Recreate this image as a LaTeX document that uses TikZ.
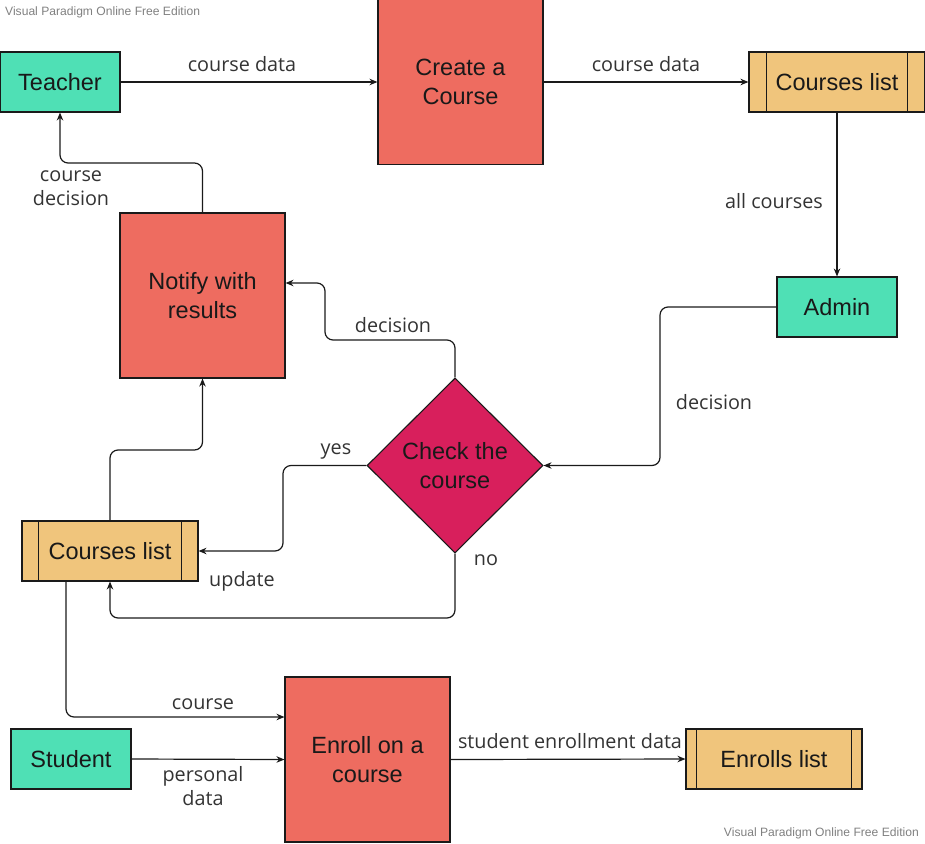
\documentclass[tikz,border=0pt]{standalone}
\usepackage{fontspec}
\setmainfont{Liberation Sans}
\newfontfamily\lblfont{Open Sans}
\usetikzlibrary{shapes.geometric,arrows.meta}
\definecolor{entgreen}{HTML}{4FE0B5}
\definecolor{procred}{HTML}{EE6C60}
\definecolor{decpink}{HTML}{D81F5C}
\definecolor{storeor}{HTML}{F0C57C}
\definecolor{lbl}{HTML}{333333}
\definecolor{wm}{HTML}{808080}
\definecolor{edge}{HTML}{1A1A1A}
\begin{document}
\begin{tikzpicture}[x=1pt,y=-1pt,
  base/.style={draw=edge, line width=1.1pt, inner sep=0pt, align=center, text=black!90,
    font=\fontsize{23.5}{28.5}\selectfont},
  entity/.style={base, fill=entgreen, minimum width=120pt, minimum height=60pt},
  proc/.style={base, fill=procred, minimum width=165pt, minimum height=165pt},
  store/.style={base, fill=storeor, minimum width=176pt, minimum height=60pt},
  decision/.style={base, diamond, fill=decpink, minimum width=176pt, minimum height=175pt},
  flow/.style={draw=edge, line width=1.2pt, rounded corners=8pt, -{Stealth[length=8pt,width=6.5pt]}},
  lab/.style={font=\lblfont\fontsize{19.8}{24}\selectfont, text=lbl, align=center, inner sep=0pt},
  wmark/.style={font=\fontsize{12.1}{14}\selectfont, text=wm, inner sep=0pt}]
\useasboundingbox (0,0) rectangle (925,843);

% nodes
\node[entity] (tch) at (60,82) {Teacher};
\node[proc] (crt) at (460.5,82) {Create a\\Course};
\node[store] (cl1) at (837,82) {Courses list};
\node[entity] (adm) at (837,307) {Admin};
\node[proc] (ntf) at (202.5,295.5) {Notify with\\results};
\node[decision] (chk) at (455,465.5) {Check the\\course};
\node[store] (cl2) at (110,551) {Courses list};
\node[entity] (stu) at (71,759) {Student};
\node[proc] (enr) at (367.5,759.5) {Enroll on a\\course};
\node[store] (enl) at (774,759) {Enrolls list};

% storage inner lines
\draw[edge, line width=1.1pt] ([xshift=18pt]cl1.north west) -- ([xshift=18pt]cl1.south west);
\draw[edge, line width=1.1pt] ([xshift=-18pt]cl1.north east) -- ([xshift=-18pt]cl1.south east);
\draw[edge, line width=1.1pt] ([xshift=17pt]cl2.north west) -- ([xshift=17pt]cl2.south west);
\draw[edge, line width=1.1pt] ([xshift=-17pt]cl2.north east) -- ([xshift=-17pt]cl2.south east);
\draw[edge, line width=1.1pt] ([xshift=11pt]enl.north west) -- ([xshift=11pt]enl.south west);
\draw[edge, line width=1.1pt] ([xshift=-11pt]enl.north east) -- ([xshift=-11pt]enl.south east);

% connectors
\draw[flow] (tch.east) -- (crt.west);
\draw[flow] (crt.east) -- (cl1.west);
\draw[flow] (cl1.south) -- (adm.north);
\draw[flow] (adm.west) -- (660,307) -- (660,465.5) -- (chk.east);
\draw[flow] (chk.north) -- (455,340) -- (325,340) -- (325,283) -- ([yshift=12.5pt]ntf.east);
\draw[flow] (ntf.north) -- (202.5,163) -- (60,163) -- (tch.south);
\draw[flow] (chk.west) -- (283,465.5) -- (283,551) -- (cl2.east);
\draw[flow] (chk.south) -- (455,618) -- (110,618) -- (cl2.south);
\draw[flow] (cl2.north) -- (110,450) -- (202.5,450) -- (ntf.south);
\draw[flow] ([xshift=-44pt]cl2.south) -- (66,717) -- ([yshift=42.5pt]enr.west);
\draw[flow] (stu.east) -- (enr.west);
\draw[flow] (enr.east) -- (enl.west);

% labels
\node[lab] (l1) at (242,64) {course data};
\node[lab] (l2) at (646,64) {course data};
\node[lab] (l3) at (774,201) {all courses};
\node[lab] (l4) at (714,402) {decision};
\node[lab] (l5) at (393,325) {decision};
\node[lab] (l6) at (71,188) {course\\decision};
\node[lab] (l7) at (336,451) {yes};
\node[lab] (l8) at (486,560) {no};
\node[lab] (l9) at (242,581) {update};
\node[lab] (l10) at (203,704) {course};
\node[lab] (l11) at (203,786) {personal\\data};
\node[lab] (l12) at (570,741) {student enrollment data};

% watermarks
\node[wmark, anchor=west] (wm1) at (5,12) {Visual Paradigm Online Free Edition};
\node[wmark, anchor=east] (wm2) at (919,833) {Visual Paradigm Online Free Edition};
\end{tikzpicture}
\end{document}
